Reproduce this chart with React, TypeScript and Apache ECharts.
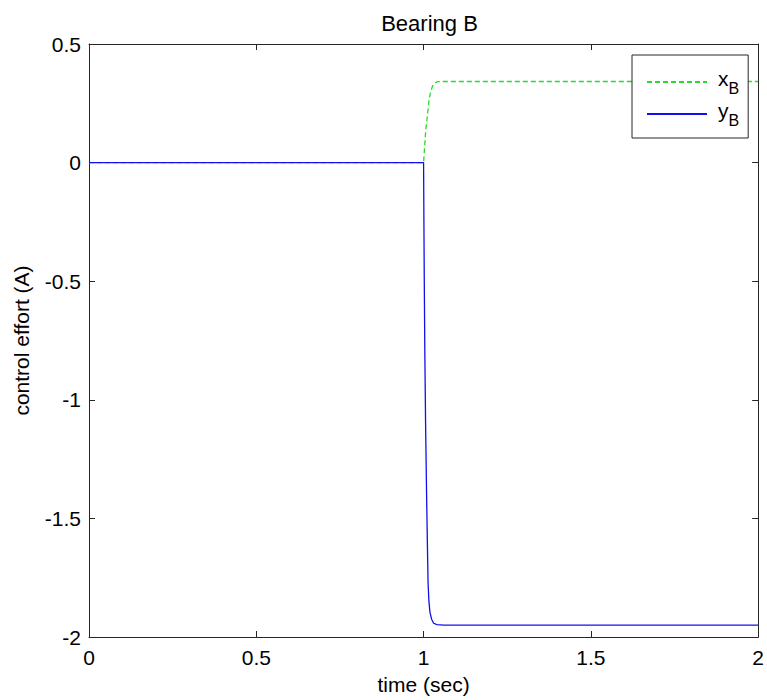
import React, { useEffect, useRef } from "react";
import * as echarts from "echarts";

const titleText = "Bearing B";
const xAxisName = "time (sec)";
const yAxisName = "control effort (A)";

const timeXB = [0, 1, 1.003, 1.0065, 1.0115, 1.0164, 1.021, 1.026, 1.032, 1.041, 1.06, 2];
const valuesXB = [0, 0, 0.065, 0.138, 0.2, 0.264, 0.297, 0.32, 0.334, 0.341, 0.342, 0.342];

const timeYB = [0, 1, 1.001, 1.002, 1.0036, 1.006, 1.009, 1.0113, 1.0134, 1.016, 1.019, 1.024, 1.03, 1.04, 1.06, 2];
const valuesYB = [0, 0, -0.25, -0.48, -0.78, -1.1, -1.4, -1.6, -1.77, -1.85, -1.895, -1.925, -1.942, -1.948, -1.95, -1.95];

const legendNames = ["xB", "yB"];

const FONT = "Liberation Sans, Arial, sans-serif";

export default function App() {
  const ref = useRef<HTMLDivElement>(null);
  useEffect(() => {
    document.body.style.margin = "0";
    document.documentElement.style.overflow = "hidden";
    document.body.style.overflow = "hidden";
    const chart = echarts.init(ref.current!, null, { renderer: "svg" });
    const axisColor = "#262626";
    const axisLine = { show: true, onZero: false, lineStyle: { color: axisColor, width: 1 } };
    const axisTick = { show: true, inside: true, length: 6, lineStyle: { color: axisColor } };
    chart.setOption({
      animation: false,
      backgroundColor: "#ffffff",
      textStyle: { fontFamily: FONT },
      title: {
        text: titleText,
        left: 424.5,
        top: 7,
        textAlign: "center",
        textStyle: { fontFamily: FONT, fontSize: 22, fontWeight: "normal", color: "#000" },
      },
      grid: { left: 89, top: 44, width: 671, height: 596, containLabel: false },
      legend: {
        orient: "vertical",
        left: 632,
        top: 55,
        padding: [13, 9, 10, 14],
        itemGap: 4,
        itemWidth: 60,
        itemHeight: 14,
        backgroundColor: "#ffffff",
        borderColor: axisColor,
        borderWidth: 1,
        borderRadius: 0,
        itemStyle: { opacity: 0 },
        data: legendNames,
        formatter: (name: string) => `{m|${name.charAt(0)}}{s|${name.slice(1)}}`,
        textStyle: {
          fontFamily: FONT,
          color: "#000",
          padding: [0, 0, 0, 6],
          rich: {
            m: { fontSize: 21, fontFamily: FONT, color: "#000", lineHeight: 28, verticalAlign: "top", padding: [0, 0, 0, 0] },
            s: { fontSize: 16, fontFamily: FONT, color: "#000", lineHeight: 28, verticalAlign: "bottom", padding: [12, 0, 0, 0] },
          },
        },
      },
      xAxis: [
        {
          type: "value",
          min: 0,
          max: 2,
          interval: 0.5,
          name: xAxisName,
          nameLocation: "middle",
          nameGap: 37,
          nameTextStyle: { fontFamily: FONT, fontSize: 21, color: "#000" },
          axisLine,
          axisTick,
          splitLine: { show: false },
          axisLabel: { fontFamily: FONT, fontSize: 21, color: "#000", margin: 10, formatter: (v: number) => String(v) },
        },
        {
          type: "value",
          position: "top",
          min: 0,
          max: 2,
          interval: 0.5,
          axisLine,
          axisTick,
          splitLine: { show: false },
          axisLabel: { show: false },
        },
      ],
      yAxis: [
        {
          type: "value",
          min: -2,
          max: 0.5,
          interval: 0.5,
          name: yAxisName,
          nameLocation: "middle",
          nameGap: 57,
          nameRotate: 90,
          nameTextStyle: { fontFamily: FONT, fontSize: 21, color: "#000" },
          axisLine,
          axisTick,
          splitLine: { show: false },
          axisLabel: { fontFamily: FONT, fontSize: 21, color: "#000", margin: 8, formatter: (v: number) => String(v) },
        },
        {
          type: "value",
          position: "right",
          min: -2,
          max: 0.5,
          interval: 0.5,
          axisLine,
          axisTick,
          splitLine: { show: false },
          axisLabel: { show: false },
        },
      ],
      series: [
        {
          name: legendNames[0],
          type: "line",
          xAxisIndex: 0,
          yAxisIndex: 0,
          showSymbol: false,
          symbol: "none",
          smooth: false,
          data: timeXB.map((t, i) => [t, valuesXB[i]]),
          lineStyle: { color: "#22dd22", width: 1.3, type: [5, 3] },
          itemStyle: { color: "#22dd22" },
        },
        {
          name: legendNames[1],
          type: "line",
          xAxisIndex: 0,
          yAxisIndex: 0,
          showSymbol: false,
          symbol: "none",
          smooth: false,
          data: timeYB.map((t, i) => [t, valuesYB[i]]),
          lineStyle: { color: "#1010ee", width: 1.3 },
          itemStyle: { color: "#1010ee" },
        },
      ],
    });
    return () => chart.dispose();
  }, []);
  return <div ref={ref} style={{ width: 767, height: 700, position: "absolute", left: 0, top: 0, overflow: "hidden" }} />;
}
